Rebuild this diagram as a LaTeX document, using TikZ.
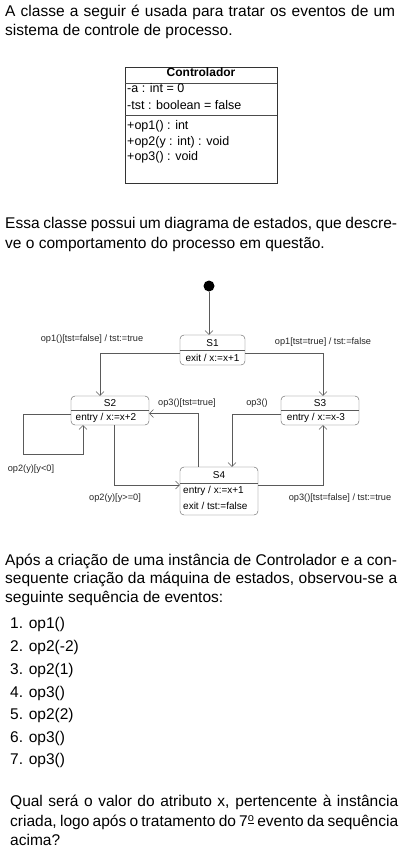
\documentclass[tikz,border=0pt]{standalone}
\usepackage{fontspec}
\setmainfont{Liberation Sans}
\usetikzlibrary{arrows.meta}
\definecolor{linegray}{HTML}{5A5A5A}
\tikzset{
 para/.style={anchor=base west, inner sep=0pt, font=\fontsize{15.5}{18}\selectfont},
 cls/.style={anchor=base west, inner sep=0pt, font=\fontsize{12.5}{14}\selectfont},
 statebox/.style={draw=linegray, rounded corners=4pt, minimum width=78pt, minimum height=29pt, inner sep=0pt},
 stxt/.style={inner sep=0pt, font=\fontsize{10}{12}\selectfont},
 lbl/.style={inner sep=0pt, font=\fontsize{9.2}{10}\selectfont, text=black!85},
 tr/.style={draw=linegray, -{Straight Barb[length=4pt,width=8pt]}},
}
\begin{document}
\begin{tikzpicture}[x=1pt,y=-1pt]
\useasboundingbox (0,0) rectangle (412,856);
% paragraph 1
\node[para] (p1a) at (5,16.7) {\makebox[390pt][s]{A classe a seguir é usada para tratar os eventos de um}};
\node[para] (p1b) at (5,36) {sistema de controle de processo.};
% class box
\node[draw=black!80, minimum width=152pt, minimum height=116pt, inner sep=0pt] (cls) at (201,125) {};
\draw[black!70] (cls.west |- 0,83) -- (cls.east |- 0,83);
\draw[black!70] (cls.west |- 0,115) -- (cls.east |- 0,115);
\node[inner sep=0pt, anchor=base, font=\fontsize{12}{14}\selectfont\bfseries] (cname) at (201,77) {Controlador};
\node[cls] (ca1) at (127,93) {-a : int = 0};
\node[cls] (ca2) at (127,110) {-tst : boolean = false};
\node[cls] (co1) at (127,129) {+op1() : int};
\node[cls] (co2) at (127,145) {+op2(y : int) : void};
\node[cls] (co3) at (127,160) {+op3() : void};
% paragraph 2
\node[para] (p2a) at (5,228) {\makebox[392pt][s]{Essa classe possui um diagrama de estados, que descre-}};
\node[para] (p2b) at (5,248) {ve o comportamento do processo em questão.};
% state diagram
\node[circle, fill=black, minimum size=11pt, inner sep=0pt] (init) at (209,286) {};
\node[statebox, minimum width=65pt, minimum height=30pt] (s1) at (212.5,350) {};
\draw[linegray] (s1.west |- 0,350) -- (s1.east |- 0,350);
\node[stxt] (s1n) at (212.5,343) {S1};
\node[stxt] (s1e) at (212.5,358) {exit / x:=x+1};
\node[statebox] (s2) at (110,410.5) {};
\draw[linegray] (s2.west |- 0,410) -- (s2.east |- 0,410);
\node[stxt] (s2n) at (110,403) {S2};
\node[stxt] (s2e) at (106,418) {entry / x:=x+2};
\node[statebox] (s3) at (320,410.5) {};
\draw[linegray] (s3.west |- 0,410) -- (s3.east |- 0,410);
\node[stxt] (s3n) at (320,403) {S3};
\node[stxt] (s3e) at (316,418) {entry / x:=x-3};
\node[statebox, minimum height=48pt] (s4) at (219,491) {};
\draw[linegray] (s4.west |- 0,483) -- (s4.east |- 0,483);
\node[stxt] (s4n) at (219,475.5) {S4};
\node[stxt, anchor=west] (s4e) at (183,491) {entry / x:=x+1};
\node[stxt, anchor=west] (s4x) at (183,506) {exit / tst:=false};
% transitions
\draw[tr] (init) -- (init |- s1.north);
\draw[tr] ([yshift=-3pt]s1.west) -| ([xshift=-10pt]s2.north);
\draw[tr] ([yshift=-3pt]s1.east) -| ([xshift=3pt]s3.north);
\draw[tr] ([yshift=-4pt]s2.west) -- ++(-48,0) -- ++(0,40) -| ([xshift=-27pt]s2.south);
\draw[tr] ([xshift=4pt]s2.south) |- ([yshift=6pt]s4.west);
\draw[tr] ([xshift=-21pt]s4.north) |- ([yshift=-3pt]s2.east);
\draw[tr] ([yshift=-4pt]s3.west) -| ([xshift=13pt]s4.north);
\draw[tr] ([yshift=6pt]s4.east) -| ([xshift=3pt]s3.south);
% labels
\node[lbl] (l1) at (92,339) {op1()[tst=false] / tst:=true};
\node[lbl] (l2) at (323,342) {op1[tst=true] / tst:=false};
\node[lbl] (l3) at (31,469) {op2(y)[y<0]};
\node[lbl] (l4) at (115,498) {op2(y)[y>=0]};
\node[lbl] (l5) at (187,403) {op3()[tst=true]};
\node[lbl] (l6) at (257,403) {op3()};
\node[lbl] (l7) at (340,498) {op3()[tst=false] / tst:=true};
% paragraph 3
\node[para] (p3a) at (5,565) {\makebox[392pt][s]{Após a criação de uma instância de Controlador e a con-}};
\node[para] (p3b) at (5,583.5) {\makebox[392pt][s]{sequente criação da máquina de estados, observou-se a}};
\node[para] (p3c) at (5,602) {seguinte sequência de eventos:};
% list
\node[para] (e1) at (10,628) {1. op1()};
\node[para] (e2) at (10,651) {2. op2(-2)};
\node[para] (e3) at (10,674) {3. op2(1)};
\node[para] (e4) at (10,697) {4. op3()};
\node[para] (e5) at (10,719) {5. op2(2)};
\node[para] (e6) at (10,742) {6. op3()};
\node[para] (e7) at (10,764) {7. op3()};
% final paragraph
\node[para] (q1) at (10,806) {\makebox[388pt][s]{Qual será o valor do atributo x, pertencente à instância}};
\node[para] (q2) at (10,826.5) {\makebox[388pt][s]{criada, logo após o tratamento do 7\raisebox{0.6ex}{\fontsize{11}{11}\selectfont\underline{o}} evento da sequência}};
\node[para] (q3) at (10,845) {acima?};
\end{tikzpicture}
\end{document}
